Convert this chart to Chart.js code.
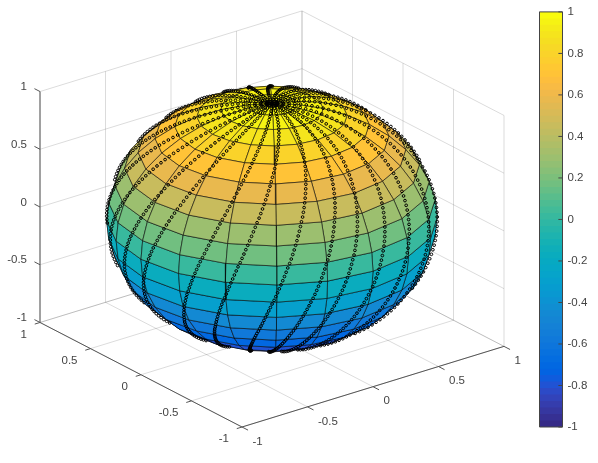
<!DOCTYPE html>
<html>
<head>
<meta charset="utf-8">
<style>
html, body { margin: 0; padding: 0; background: #fff; }
canvas { display: block; }
</style>
<script src="https://cdn.jsdelivr.net/npm/chart.js@4"></script>
</head>
<body>
<canvas id="chart" width="598" height="463"></canvas>
<script>
"use strict";

// sphere mesh, degrees
const ringLat = [-90, -81, -72, -63, -54, -45, -36, -27, -18, -9, 0, 9, 18, 27, 36, 45, 54, 63, 72, 81, 90];
const meridianLon = [-180, -162, -144, -126, -108, -90, -72, -54, -36, -18, 0, 18, 36, 54, 72, 90, 108, 126, 144, 162, 180];

// the circle strands: longitude where each crosses the equator, then lat and twist along a strand
const strandLon = [170.5, -176.5, -156, -142, -124.5, -110.7, -100.5, -87.3, -73.3, -57, -40, -25, -10, 5, 20, 35, 50, 65, 80, 95, 110, 125, 140, 155];
const strandLat = [-90, -88, -86, -84, -82, -80, -78, -76, -74, -72, -70, -68, -66, -64, -62, -60, -58, -56, -54, -52, -50, -48, -46, -44, -42, -40, -38, -36, -34, -32, -30, -28, -26, -24, -22, -20, -18, -16, -14, -12, -10, -8, -6, -4, -2, 0, 2, 4, 6, 8, 10, 12, 14, 16, 18, 20, 22, 24, 26, 28, 30, 32, 34, 36, 38, 40, 42, 44, 46, 48, 50, 52, 54, 56, 58, 60, 62, 64, 66, 68, 70, 72, 74, 76, 78, 80, 82, 84, 86, 88, 90];
const strandTwist = [-27.5, -26.8, -26.2, -25.6, -25, -24.4, -23.8, -23.2, -22.6, -22, -21.4, -20.7, -20.1, -19.5, -18.9, -18.3, -17.7, -17.1, -16.5, -15.9, -15.3, -14.6, -14, -13.4, -12.8, -12.2, -11.6, -11, -10.4, -9.8, -9.2, -8.5, -7.9, -7.3, -6.7, -6.1, -5.5, -4.9, -4.3, -3.7, -3.1, -2.4, -1.8, -1.2, -0.6, 0, 0.6, 1.2, 1.8, 2.4, 3.1, 3.7, 4.3, 4.9, 5.5, 6.1, 6.7, 7.3, 7.9, 8.5, 9.2, 9.8, 10.4, 11, 11.6, 12.2, 12.8, 13.4, 14, 14.6, 15.3, 15.9, 16.5, 17.1, 17.7, 18.3, 18.9, 19.5, 20.1, 20.7, 21.4, 22, 22.6, 23.2, 23.8, 24.4, 25, 25.6, 26.2, 26.8, 27.5];

const axisTicks = [-1, -0.5, 0, 0.5, 1];
const colorTicks = [-1, -0.8, -0.6, -0.4, -0.2, 0, 0.2, 0.4, 0.6, 0.8, 1];

const parula = [
  [.2081,.1663,.5292],[.2116,.1898,.5777],[.2123,.2138,.6270],[.2081,.2386,.6771],[.1959,.2645,.7279],[.1707,.2919,.7792],[.1253,.3242,.8303],[.0591,.3598,.8683],
  [.0117,.3875,.8820],[.0060,.4086,.8828],[.0165,.4266,.8786],[.0329,.4430,.8720],[.0498,.4586,.8641],[.0629,.4737,.8554],[.0723,.4887,.8467],[.0779,.5040,.8384],
  [.0793,.5200,.8312],[.0749,.5375,.8263],[.0641,.5570,.8240],[.0488,.5772,.8228],[.0343,.5966,.8199],[.0265,.6137,.8135],[.0239,.6287,.8038],[.0231,.6418,.7913],
  [.0228,.6535,.7768],[.0267,.6642,.7607],[.0384,.6743,.7436],[.0590,.6838,.7254],[.0843,.6928,.7062],[.1133,.7015,.6859],[.1453,.7098,.6646],[.1801,.7177,.6424],
  [.2178,.7250,.6193],[.2586,.7317,.5954],[.3022,.7376,.5712],[.3482,.7424,.5473],[.3953,.7459,.5244],[.4420,.7481,.5033],[.4871,.7491,.4840],[.5300,.7491,.4661],
  [.5709,.7485,.4494],[.6099,.7473,.4337],[.6473,.7456,.4188],[.6834,.7435,.4044],[.7184,.7411,.3905],[.7525,.7384,.3768],[.7858,.7356,.3633],[.8185,.7327,.3498],
  [.8507,.7299,.3360],[.8824,.7274,.3217],[.9139,.7258,.3063],[.9450,.7261,.2886],[.9739,.7314,.2666],[.9938,.7455,.2403],[.9990,.7653,.2164],[.9955,.7861,.1967],
  [.9880,.8066,.1794],[.9789,.8271,.1633],[.9697,.8481,.1475],[.9626,.8705,.1309],[.9589,.8949,.1132],[.9598,.9218,.0948],[.9661,.9514,.0755],[.9763,.9831,.0538],
];

function rgb(c) { return `rgb(${c.map((v) => Math.round(v * 255)).join(",")})`; }
function cmap(v) {
  const i = Math.min(63, Math.max(0, Math.floor((v + 1) / 2 * 64)));
  return rgb(parula[i]);
}

// view: orthographic, worked out from the corners of the axes box
function project(x, y, z) {
  return { x: 131 * x - 101 * y, y: -40.5 * x - 52.5 * y - 116 * z };
}
const VIEW = [-0.530, -0.687, 0.496];
function depth(p) { return p[0] * VIEW[0] + p[1] * VIEW[1] + p[2] * VIEW[2]; }
function onSphere(lat, lon) {
  const a = lat * Math.PI / 180, b = lon * Math.PI / 180;
  return [Math.cos(a) * Math.cos(b), Math.cos(a) * Math.sin(b), Math.sin(a)];
}
function line3(a, b) { return [project(...a), project(...b)]; }

function lineSet(data, color, width) {
  return { type: "scatter", data, showLine: true, borderColor: color, borderWidth: width,
    pointRadius: 0, fill: false, clip: false, tension: 0 };
}

// circles; the mesh sits inside the true sphere, so ones just past the rim still show
const circles = [];
strandLon.forEach((lon0) => {
  strandLat.forEach((lat, i) => {
    const p = onSphere(lat, lon0 + strandTwist[i]);
    if (depth(p) > -0.1) circles.push(project(...p));
  });
});
const circleSet = { type: "scatter", data: circles, showLine: false, pointRadius: 1.35,
  pointBorderWidth: 1, pointBorderColor: "#000", pointBackgroundColor: "rgba(0,0,0,0)", clip: false };

// facets, nearest first since Chart.js paints the first dataset last
const facets = [];
for (let i = 0; i < ringLat.length - 1; i++) {
  for (let j = 0; j < meridianLon.length - 1; j++) {
    const c = [[i, j], [i, j + 1], [i + 1, j + 1], [i + 1, j]].map(([r, m]) => onSphere(ringLat[r], meridianLon[m]));
    const d = c.map(depth);
    if (Math.max(...d) <= 0) continue;
    const pts = c.map((p) => project(...p));
    pts.push(pts[0]);
    facets.push({ d: d[0] + d[1] + d[2] + d[3], set: {
      type: "scatter", data: pts, showLine: true, fill: "shape", tension: 0, clip: false,
      backgroundColor: cmap(c[0][2]), borderColor: "rgba(0,0,0,.8)", borderWidth: 0.7, pointRadius: 0,
    } });
  }
}
facets.sort((a, b) => b.d - a.d);

// axes box
const GRID = "rgba(0,0,0,.14)", AXIS = "#555";
const gridSets = [];
axisTicks.forEach((t) => {
  gridSets.push(lineSet(line3([t, -1, -1], [t, 1, -1]), GRID, 1));
  gridSets.push(lineSet(line3([-1, t, -1], [1, t, -1]), GRID, 1));
  gridSets.push(lineSet(line3([t, 1, -1], [t, 1, 1]), GRID, 1));
  gridSets.push(lineSet(line3([-1, 1, t], [1, 1, t]), GRID, 1));
  gridSets.push(lineSet(line3([1, t, -1], [1, t, 1]), GRID, 1));
  gridSets.push(lineSet(line3([1, -1, t], [1, 1, t]), GRID, 1));
});
const axisSets = [
  lineSet(line3([-1, 1, -1], [-1, 1, 1]), AXIS, 1),
  lineSet(line3([-1, 1, -1], [-1, -1, -1]), AXIS, 1),
  lineSet(line3([-1, -1, -1], [1, -1, -1]), AXIS, 1),
];
axisTicks.forEach((t) => {
  axisSets.push(lineSet(line3([-1, 1, t], [-1, 1.055, t]), AXIS, 1));
  axisSets.push(lineSet(line3([-1, t, -1], [-1.04, t, -1]), AXIS, 1));
  axisSets.push(lineSet(line3([t, -1, -1], [t, -1.06, -1]), AXIS, 1));
});

// colorbar
const barSets = [];
const barBox = [{ x: 0, y: -1 }, { x: 1, y: -1 }, { x: 1, y: 1 }, { x: 0, y: 1 }, { x: 0, y: -1 }];
barSets.push(Object.assign(lineSet(barBox, "#444", 1), { xAxisID: "cbX", yAxisID: "cbY" }));
colorTicks.forEach((t) => {
  barSets.push(Object.assign(lineSet([{ x: 0.82, y: t }, { x: 1, y: t }], "#444", 1), { xAxisID: "cbX", yAxisID: "cbY" }));
});
// each cell runs on under the one below it so no hairlines show between them
parula.forEach((c, i) => {
  const lo = -1 + i / 32, hi = -1 + (i + 1) / 32;
  barSets.push({ type: "scatter", xAxisID: "cbX", yAxisID: "cbY", showLine: true, fill: "shape", tension: 0,
    data: [{ x: 0, y: lo - 1 / 64 }, { x: 1, y: lo - 1 / 64 }, { x: 1, y: hi }, { x: 0, y: hi }, { x: 0, y: lo - 1 / 64 }],
    backgroundColor: rgb(c), borderWidth: 0, pointRadius: 0 });
});

// tick labels of the 3D box
const axisLabels = {
  id: "axisLabels",
  afterDraw(chart) {
    const { ctx, scales } = chart;
    const put = (p, text, dx, dy, align) => {
      ctx.textAlign = align;
      ctx.fillText(text, scales.x.getPixelForValue(p.x) + dx, scales.y.getPixelForValue(p.y) + dy);
    };
    ctx.save();
    ctx.font = "11.5px 'Liberation Sans'";
    ctx.fillStyle = "#444";
    ctx.textBaseline = "middle";
    axisTicks.forEach((t) => {
      put(project(-1, 1, t), String(t), -13, -4.5, "right");
      put(project(-1, t, -1), String(t), -13, 12, "right");
      put(project(t, -1, -1), String(t), 10.5, 14.5, "left");
    });
    ctx.restore();
  },
};

new Chart(document.getElementById("chart"), {
  type: "scatter",
  data: { datasets: [circleSet, ...facets.map((f) => f.set), ...axisSets, ...gridSets, ...barSets] },
  options: {
    responsive: false,
    animation: false,
    events: [],
    layout: { autoPadding: false, padding: { top: 10, bottom: 36, left: 0, right: 0 } },
    plugins: { legend: { display: false }, tooltip: { enabled: false } },
    scales: {
      x: { type: "linear", display: false, min: -272, max: 290.5 },
      y: { type: "linear", display: false, reverse: true, min: -208, max: 209 },
      cbX: { type: "linear", axis: "x", display: false, min: -539.5 / 23, max: 1 },
      cbY: {
        type: "linear", axis: "y", position: "right", min: -1, max: 1,
        afterFit(s) { s.width = 35.5; },
        border: { display: false },
        grid: { display: false, drawTicks: false },
        afterBuildTicks(s) { s.ticks = colorTicks.map((value) => ({ value })); },
        ticks: { padding: 5, autoSkip: false, color: "#444", font: { family: "'Liberation Sans'", size: 11.5 },
          callback: (v) => String(v) },
      },
    },
  },
  plugins: [axisLabels],
});
</script>
</body>
</html>
